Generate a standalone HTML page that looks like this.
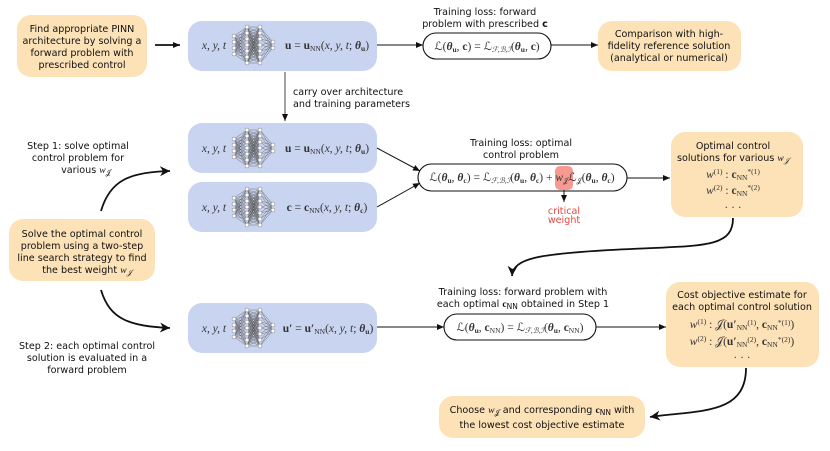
<!DOCTYPE html>
<html><head><meta charset="utf-8"><style>
html,body{margin:0;padding:0;background:#fff;width:830px;height:451px;overflow:hidden}
svg{display:block}
.t{font-family:"DejaVu Sans","Liberation Sans",sans-serif;font-size:9.6px;fill:#111;text-anchor:middle}
.tl{font-family:"DejaVu Sans","Liberation Sans",sans-serif;font-size:9.6px;fill:#111}
.m{font-family:"Liberation Serif",serif;font-size:11.5px;fill:#333;text-anchor:middle}
.mi{font-style:italic}
.b{font-weight:bold}
.s{font-size:7.5px}
</style></head><body>
<svg width="830" height="451" viewBox="0 0 830 451" xmlns="http://www.w3.org/2000/svg">
<defs>
<marker id="a" markerWidth="8" markerHeight="8" refX="7" refY="4" orient="auto" markerUnits="userSpaceOnUse"><path d="M0,1 L7,4 L0,7 Z" fill="#111"/></marker>
<marker id="a2" markerWidth="12" markerHeight="12" refX="10" refY="6" orient="auto" markerUnits="userSpaceOnUse"><path d="M0,1 L10,6 L0,11 L3,6 Z" fill="#111"/></marker>
<g id="nn">
<path stroke="#555" stroke-width="0.4" fill="none" d="
M0,-9L13,-18M0,-9L13,-12M0,-9L13,-6M0,-9L13,0M0,-9L13,6M0,-9L13,12M0,-9L13,18
M0,-3L13,-18M0,-3L13,-12M0,-3L13,-6M0,-3L13,0M0,-3L13,6M0,-3L13,12M0,-3L13,18
M0,3L13,-18M0,3L13,-12M0,3L13,-6M0,3L13,0M0,3L13,6M0,3L13,12M0,3L13,18
M0,9L13,-18M0,9L13,-12M0,9L13,-6M0,9L13,0M0,9L13,6M0,9L13,12M0,9L13,18
M13,-18L26,-18M13,-18L26,-12M13,-18L26,-6M13,-18L26,0M13,-18L26,6M13,-18L26,12M13,-18L26,18
M13,-12L26,-18M13,-12L26,-12M13,-12L26,-6M13,-12L26,0M13,-12L26,6M13,-12L26,12M13,-12L26,18
M13,-6L26,-18M13,-6L26,-12M13,-6L26,-6M13,-6L26,0M13,-6L26,6M13,-6L26,12M13,-6L26,18
M13,0L26,-18M13,0L26,-12M13,0L26,-6M13,0L26,0M13,0L26,6M13,0L26,12M13,0L26,18
M13,6L26,-18M13,6L26,-12M13,6L26,-6M13,6L26,0M13,6L26,6M13,6L26,12M13,6L26,18
M13,12L26,-18M13,12L26,-12M13,12L26,-6M13,12L26,0M13,12L26,6M13,12L26,12M13,12L26,18
M13,18L26,-18M13,18L26,-12M13,18L26,-6M13,18L26,0M13,18L26,6M13,18L26,12M13,18L26,18
M26,-18L39,-3M26,-12L39,-3M26,-6L39,-3M26,0L39,-3M26,6L39,-3M26,12L39,-3M26,18L39,-3
M26,-18L39,3M26,-12L39,3M26,-6L39,3M26,0L39,3M26,6L39,3M26,12L39,3M26,18L39,3"/>
<g fill="#fff" stroke="#777" stroke-width="0.5">
<circle cx="0" cy="-9" r="2"/><circle cx="0" cy="-3" r="2"/><circle cx="0" cy="3" r="2"/><circle cx="0" cy="9" r="2"/>
<circle cx="13" cy="-18" r="2"/><circle cx="13" cy="-12" r="2"/><circle cx="13" cy="-6" r="2"/><circle cx="13" cy="0" r="2"/><circle cx="13" cy="6" r="2"/><circle cx="13" cy="12" r="2"/><circle cx="13" cy="18" r="2"/>
<circle cx="26" cy="-18" r="2"/><circle cx="26" cy="-12" r="2"/><circle cx="26" cy="-6" r="2"/><circle cx="26" cy="0" r="2"/><circle cx="26" cy="6" r="2"/><circle cx="26" cy="12" r="2"/><circle cx="26" cy="18" r="2"/>
<circle cx="39" cy="-3" r="2"/><circle cx="39" cy="3" r="2"/>
</g>
</g>
</defs>

<g fill="#fde2b8">
<rect x="17" y="15" width="130" height="62" rx="14"/>
<rect x="598" y="21" width="143" height="50" rx="14"/>
<rect x="671" y="132" width="132" height="85" rx="14"/>
<rect x="9" y="219" width="146" height="62" rx="14"/>
<rect x="666" y="282" width="153" height="85" rx="14"/>
<rect x="439" y="396" width="206" height="42" rx="14"/>
</g>
<g fill="#c9d4f0">
<rect x="188" y="21" width="189" height="50" rx="14"/>
<rect x="188" y="123" width="189" height="50" rx="14"/>
<rect x="188" y="182" width="189" height="50" rx="14"/>
<rect x="188" y="303" width="189" height="50" rx="14"/>
</g>
<use href="#nn" x="234" y="45"/>
<use href="#nn" x="234" y="148"/>
<use href="#nn" x="234" y="207"/>
<use href="#nn" x="234" y="328"/>

<g class="m">
<text x="214" y="49" class="mi">x, y, t</text>
<text x="214" y="152" class="mi">x, y, t</text>
<text x="214" y="211" class="mi">x, y, t</text>
<text x="214" y="332" class="mi">x, y, t</text>
<text x="327" y="49"><tspan class="b">u</tspan> = <tspan class="b">u</tspan><tspan class="s" dy="2">NN</tspan><tspan dy="-2">(</tspan><tspan class="mi">x, y, t</tspan>; <tspan class="b mi">θ</tspan><tspan class="s b" dy="2">u</tspan><tspan dy="-2">)</tspan></text>
<text x="327" y="152"><tspan class="b">u</tspan> = <tspan class="b">u</tspan><tspan class="s" dy="2">NN</tspan><tspan dy="-2">(</tspan><tspan class="mi">x, y, t</tspan>; <tspan class="b mi">θ</tspan><tspan class="s b" dy="2">u</tspan><tspan dy="-2">)</tspan></text>
<text x="327" y="211"><tspan class="b">c</tspan> = <tspan class="b">c</tspan><tspan class="s" dy="2">NN</tspan><tspan dy="-2">(</tspan><tspan class="mi">x, y, t</tspan>; <tspan class="b mi">θ</tspan><tspan class="s b" dy="2">c</tspan><tspan dy="-2">)</tspan></text>
<text x="328" y="332"><tspan class="b">u′</tspan> = <tspan class="b">u′</tspan><tspan class="s" dy="2">NN</tspan><tspan dy="-2">(</tspan><tspan class="mi">x, y, t</tspan>; <tspan class="b mi">θ</tspan><tspan class="s b" dy="2">u</tspan><tspan dy="-2">)</tspan></text>
</g>

<g class="t">
<text x="82" y="32">Find appropriate PINN</text>
<text x="82" y="44">architecture by solving a</text>
<text x="82" y="56">forward problem with</text>
<text x="82" y="68">prescribed control</text>
<text x="669" y="37">Comparison with high-</text>
<text x="669" y="49">fidelity reference solution</text>
<text x="669" y="61">(analytical or numerical)</text>
<text x="733" y="149">Optimal control</text>
<text x="733" y="161">solutions for various <tspan class="mi" font-family="Liberation Serif">w</tspan><tspan class="s mi" font-family="Liberation Serif" dy="2">𝒥</tspan></text>
<text x="82" y="237">Solve the optimal control</text>
<text x="82" y="249">problem using a two-step</text>
<text x="82" y="261">line search strategy to find</text>
<text x="87" y="273">the best weight <tspan class="mi" font-family="Liberation Serif">w</tspan><tspan class="s mi" font-family="Liberation Serif" dy="2">𝒥</tspan></text>
<text x="742" y="298">Cost objective estimate for</text>
<text x="742" y="310">each optimal control solution</text>
<text x="542" y="413">Choose <tspan class="mi" font-family="Liberation Serif">w</tspan><tspan class="s" dy="2">𝒥</tspan><tspan dy="-2"> and corresponding </tspan><tspan class="b" font-family="Liberation Serif">c</tspan><tspan class="s" dy="2">NN</tspan><tspan dy="-2"> with</tspan></text>
<text x="542" y="428">the lowest cost objective estimate</text>
</g>
<g class="m" font-size="10.5">
<text x="733" y="178"><tspan class="mi">w</tspan><tspan class="s" dy="-4">(1)</tspan><tspan dy="4"> : </tspan><tspan class="b">c</tspan><tspan class="s" dy="2">NN</tspan><tspan class="s" dy="-6">*(1)</tspan></text>
<text x="733" y="194"><tspan class="mi">w</tspan><tspan class="s" dy="-4">(2)</tspan><tspan dy="4"> : </tspan><tspan class="b">c</tspan><tspan class="s" dy="2">NN</tspan><tspan class="s" dy="-6">*(2)</tspan></text>
<text x="733" y="211">· · ·</text>
<text x="742" y="328"><tspan class="mi">w</tspan><tspan class="s" dy="-4">(1)</tspan><tspan dy="4"> : 𝒥(</tspan><tspan class="b">u′</tspan><tspan class="s" dy="2">NN</tspan><tspan class="s" dy="-5">(1)</tspan><tspan dy="3">, </tspan><tspan class="b">c</tspan><tspan class="s" dy="2">NN</tspan><tspan class="s" dy="-5">*(1)</tspan><tspan dy="3">)</tspan></text>
<text x="742" y="345"><tspan class="mi">w</tspan><tspan class="s" dy="-4">(2)</tspan><tspan dy="4"> : 𝒥(</tspan><tspan class="b">u′</tspan><tspan class="s" dy="2">NN</tspan><tspan class="s" dy="-5">(2)</tspan><tspan dy="3">, </tspan><tspan class="b">c</tspan><tspan class="s" dy="2">NN</tspan><tspan class="s" dy="-5">*(2)</tspan><tspan dy="3">)</tspan></text>
<text x="742" y="361">· · ·</text>
</g>

<g class="t">
<text x="485" y="15">Training loss: forward</text>
<text x="485" y="27">problem with prescribed <tspan class="b">c</tspan></text>
<text x="521" y="146">Training loss: optimal</text>
<text x="521" y="158">control problem</text>
<text x="523" y="295">Training loss: forward problem with</text>
<text x="523" y="307">each optimal <tspan class="b" font-family="Liberation Serif">c</tspan><tspan class="s" dy="2">NN</tspan><tspan dy="-2"> obtained in Step 1</tspan></text>
<text x="78" y="149">Step 1: solve optimal</text>
<text x="78" y="161">control problem for</text>
<text x="86" y="173">various <tspan class="mi" font-family="Liberation Serif">w</tspan><tspan class="s" dy="2">𝒥</tspan></text>
<text x="87" y="349">Step 2: each optimal control</text>
<text x="87" y="361">solution is evaluated in a</text>
<text x="87" y="373">forward problem</text>
</g>
<text class="tl" x="293" y="95">carry over architecture</text>
<text class="tl" x="293" y="107">and training parameters</text>
<text class="t" x="564" y="214" font-size="7.5" style="fill:#e8473f">critical</text>
<text class="t" x="564" y="223" font-size="7.5" style="fill:#e8473f">weight</text>

<g fill="#fff" stroke="#111" stroke-width="1.1">
<rect x="423" y="33" width="128" height="26" rx="13"/>
<rect x="418" y="164" width="209" height="27" rx="13.5"/>
<rect x="444" y="314" width="152" height="26" rx="13"/>
</g>
<rect x="555" y="166" width="18" height="24" rx="5" fill="#f79a92"/>
<g class="m" font-size="11">
<text x="487" y="50">ℒ(<tspan class="b mi">θ</tspan><tspan class="s b" dy="2">u</tspan><tspan dy="-2">, </tspan><tspan class="b">c</tspan>) = ℒ<tspan class="s mi" dy="2">ℱ,ℬ,ℐ</tspan><tspan dy="-2">(</tspan><tspan class="b mi">θ</tspan><tspan class="s b" dy="2">u</tspan><tspan dy="-2">, </tspan><tspan class="b">c</tspan>)</text>
<text x="522" y="181">ℒ(<tspan class="b mi">θ</tspan><tspan class="s b" dy="2">u</tspan><tspan dy="-2">, </tspan><tspan class="b mi">θ</tspan><tspan class="s b" dy="2">c</tspan><tspan dy="-2">) = ℒ</tspan><tspan class="s mi" dy="2">ℱ,ℬ,ℐ</tspan><tspan dy="-2">(</tspan><tspan class="b mi">θ</tspan><tspan class="s b" dy="2">u</tspan><tspan dy="-2">, </tspan><tspan class="b mi">θ</tspan><tspan class="s b" dy="2">c</tspan><tspan dy="-2">) + </tspan><tspan class="mi">w</tspan><tspan class="s" dy="2">𝒥</tspan><tspan dy="-2">ℒ</tspan><tspan class="s" dy="2">𝒥</tspan><tspan dy="-2">(</tspan><tspan class="b mi">θ</tspan><tspan class="s b" dy="2">u</tspan><tspan dy="-2">, </tspan><tspan class="b mi">θ</tspan><tspan class="s b" dy="2">c</tspan><tspan dy="-2">)</tspan></text>
<text x="520" y="331">ℒ(<tspan class="b mi">θ</tspan><tspan class="s b" dy="2">u</tspan><tspan dy="-2">, </tspan><tspan class="b">c</tspan><tspan class="s" dy="2">NN</tspan><tspan dy="-2">) = ℒ</tspan><tspan class="s mi" dy="2">ℱ,ℬ,ℐ</tspan><tspan dy="-2">(</tspan><tspan class="b mi">θ</tspan><tspan class="s b" dy="2">u</tspan><tspan dy="-2">, </tspan><tspan class="b">c</tspan><tspan class="s" dy="2">NN</tspan><tspan dy="-2">)</tspan></text>
</g>

<g stroke="#111" fill="none" stroke-width="1">
<line x1="155" y1="45" x2="180" y2="45" stroke-width="1.8" marker-end="url(#a)"/>
<line x1="377" y1="45" x2="423" y2="45" marker-end="url(#a)"/>
<line x1="551" y1="45" x2="598" y2="45" marker-end="url(#a)"/>
<line x1="285" y1="72" x2="285" y2="121" stroke="#444" marker-end="url(#a)"/>
<line x1="377" y1="148" x2="420" y2="171" marker-end="url(#a)"/>
<line x1="377" y1="207" x2="420" y2="183" marker-end="url(#a)"/>
<line x1="564" y1="190" x2="564" y2="202" marker-end="url(#a)"/>
<line x1="627" y1="178" x2="670" y2="178" marker-end="url(#a)"/>
<line x1="377" y1="327" x2="444" y2="327" marker-end="url(#a)"/>
<line x1="596" y1="327" x2="666" y2="327" marker-end="url(#a)"/>
<path d="M733,218 C733,250 700,245 610,250 C540,254 513,258 512,276" stroke-width="1.8" marker-end="url(#a2)"/>
<path d="M746,368 C746,415 700,410 650,417" stroke-width="1.8" marker-end="url(#a2)"/>
<path d="M101,211 C110,180 130,172 170,171" stroke-width="1.8" marker-end="url(#a2)"/>
<path d="M101,290 C110,320 130,326 170,328" stroke-width="1.8" marker-end="url(#a2)"/>
</g>
</svg>
</body></html>
